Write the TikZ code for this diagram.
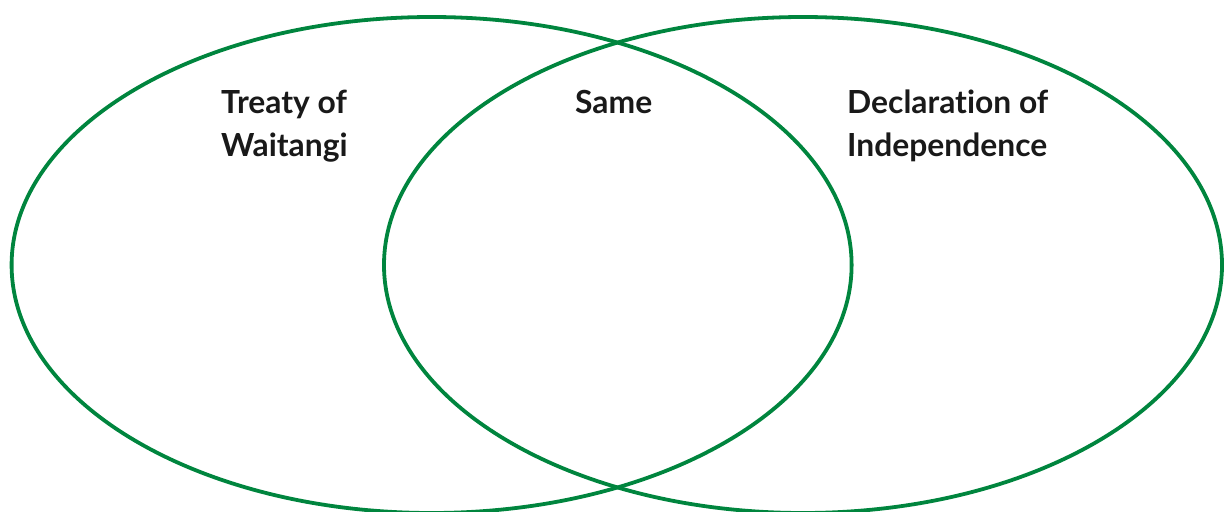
\documentclass[tikz,border=0pt]{standalone}
\usepackage{fontspec}
\setmainfont{Lato}[Ligatures=NoCommon]
\definecolor{venngreen}{RGB}{0,133,62}
\begin{document}
\begin{tikzpicture}[x=1pt,y=-1pt,
  vennset/.style={draw=venngreen,line width=3.8pt},
  lbl/.style={font=\fontsize{31.8}{43}\selectfont\bfseries,align=left,anchor=base west,inner sep=0pt,text=black!90}]
\useasboundingbox (0,0) rectangle (1225,511);
\draw[vennset] (431.6,265) ellipse [x radius=420, y radius=248];
\draw[vennset] (803,265) ellipse [x radius=419, y radius=248];
\node[lbl] (treaty) at (221,156) {Treaty of\\Waitangi};
\node[lbl] (same) at (575,113) {Same};
\node[lbl] (decl) at (847,156) {Declarat\kern0pt ion of\\Independence};
\end{tikzpicture}
\end{document}
